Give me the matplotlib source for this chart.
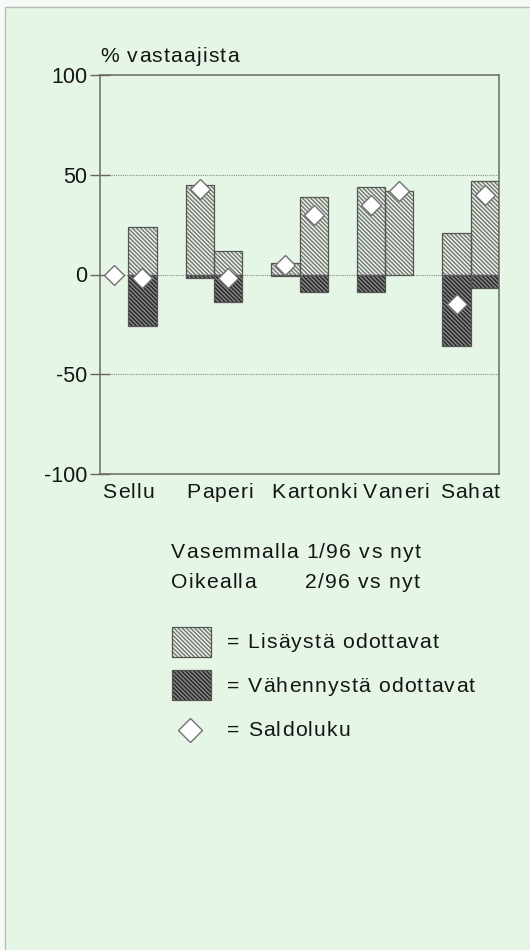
import matplotlib.pyplot as plt
from matplotlib.patches import Rectangle
from matplotlib import font_manager
from matplotlib.ft2font import FT2Font
import numpy as np

plt.rcParams['font.family'] = ['Liberation Sans', 'DejaVu Sans']
plt.rcParams['hatch.linewidth'] = 1.0

# Toimialat ja kyselyn tulokset (% vastaajista)
toimialat = ['Sellu', 'Paperi', 'Kartonki', 'Vaneri', 'Sahat']

lisays_vas = [0, 45, 6, 44, 21]
vahennys_vas = [0, -2, -1, -9, -36]
saldo_vas = [0, 43, 5, 35, -15]

lisays_oik = [24, 12, 39, 42, 47]
vahennys_oik = [-26, -14, -9, 0, -7]
saldo_oik = [-2, -2, 30, 42, 40]

y_ticks = [-100, -50, 0, 50, 100]

BG = '#e6f6e6'
LIGHT_FACE = '#e6f4e4'
LIGHT_HATCH = '#747474'
DARK_FACE = '#2a2a2a'
DARK_HATCH = '#8a8a8a'
EDGE = '#555555'
TEXT = '#151515'
HATCH = '\\' * 8
W = 0.33
FS = 15.2
TRACK = 1.2   # lisäväli merkkien välissä, px

DPI = 100
_font = FT2Font(font_manager.findfont(font_manager.FontProperties(family='Liberation Sans')))
_font.set_size(FS, DPI)


def advances(s):
    return [_font.load_char(ord(c)).linearHoriAdvance / 65536 for c in s]


def tracked(ax, x, y, s, ha='left', track=TRACK):
    # harvennettu teksti: jokainen merkki omalle paikalleen
    adv = advances(s)
    total = sum(adv) + track * (len(s) - 1)
    if ha == 'center':
        x -= total / 2
    elif ha == 'right':
        x -= total
    for c, a in zip(s, adv):
        ax.text(x, y, c, fontsize=FS, color=TEXT, ha='left', va='center')
        x += a + track


def hatched_bars(ax, x, heights, face, hatchcol):
    for xi, h in zip(x, heights):
        if h == 0:
            continue
        ax.bar(xi, h, width=W, color=face, edgecolor=hatchcol, hatch=HATCH,
               linewidth=0, align='center', zorder=2)
        ax.bar(xi, h, width=W, fill=False, edgecolor=EDGE, linewidth=0.9,
               align='center', zorder=3)


fig = plt.figure(figsize=(5.3, 9.5), dpi=DPI, facecolor='#f7f9f7')

# tausta ja reunaviiva (vain vasen ja ylä näkyvät)
bg = fig.add_axes([0, 0, 1, 1], zorder=0)
bg.set_xlim(0, 530)
bg.set_ylim(950, 0)
bg.axis('off')
bg.add_patch(Rectangle((5, 7), 700, 1100, facecolor=BG, edgecolor='#b4beb4',
                       linewidth=1.0, clip_on=False))

ax = fig.add_axes([100 / 530, 1 - 474 / 950, 399 / 530, 399 / 950], zorder=2)
ax.set_facecolor(BG)

x = np.arange(len(toimialat))
x_vas = x - W / 2
x_oik = x + W / 2

hatched_bars(ax, x_vas, lisays_vas, LIGHT_FACE, LIGHT_HATCH)
hatched_bars(ax, x_vas, vahennys_vas, DARK_FACE, DARK_HATCH)
hatched_bars(ax, x_oik, lisays_oik, LIGHT_FACE, LIGHT_HATCH)
hatched_bars(ax, x_oik, vahennys_oik, DARK_FACE, DARK_HATCH)

ax.plot(x_vas, saldo_vas, linestyle='none', marker='D', markersize=10,
        markerfacecolor='white', markeredgecolor='#707070', markeredgewidth=1.0, zorder=4)
ax.plot(x_oik, saldo_oik, linestyle='none', marker='D', markersize=10,
        markerfacecolor='white', markeredgecolor='#707070', markeredgewidth=1.0, zorder=4)

for yv in [-50, 0, 50]:
    ax.axhline(yv, color='#8a8a8a', linestyle=(0, (1, 1)), linewidth=0.8, zorder=1)

ax.set_xlim(-W, len(toimialat) - 1 + W)
ax.set_ylim(-100, 100)
ax.set_yticks(y_ticks)
ax.set_yticklabels([str(v) for v in y_ticks])
ax.set_xticks(x)
ax.set_xticklabels([])
ax.tick_params(axis='y', direction='inout', length=14, width=1, color='#666666',
               labelsize=15.5, pad=2, labelcolor=TEXT)
ax.tick_params(axis='x', length=0)
for s in ax.spines.values():
    s.set_color('#6a6a6a')
    s.set_linewidth(1.1)

# Kuvan päälle pikselikoordinaatein (y alaspäin) oleva kerros teksteille ja selitteille
lg = fig.add_axes([0, 0, 1, 1], zorder=5)
lg.set_xlim(0, 530)
lg.set_ylim(950, 0)
lg.axis('off')
lg.patch.set_alpha(0)

tracked(lg, 100, 57, '% vastaajista')

# toimialojen nimet akselin alle, kirjoitettuna yhdeksi väljäksi riviksi
label_shift = [0, 6, 15, 11, -1]
to_px = ax.transData
for xi, name, dx in zip(x, toimialat, label_shift):
    px = to_px.transform((xi, 0))[0] + dx
    tracked(lg, px, 493, name, ha='center')

tracked(lg, 171, 553, 'Vasemmalla 1/96 vs nyt')
tracked(lg, 171, 583, 'Oikealla')
tracked(lg, 305, 583, '2/96 vs nyt')

lg.add_patch(Rectangle((172, 627), 39, 30, facecolor=LIGHT_FACE,
                       edgecolor=LIGHT_HATCH, hatch=HATCH, linewidth=0))
lg.add_patch(Rectangle((172, 627), 39, 30, fill=False, edgecolor=EDGE, linewidth=0.9))
lg.add_patch(Rectangle((172, 670), 39, 30, facecolor=DARK_FACE,
                       edgecolor=DARK_HATCH, hatch=HATCH, linewidth=0))
lg.add_patch(Rectangle((172, 670), 39, 30, fill=False, edgecolor=EDGE, linewidth=0.9))
lg.plot([190], [730], linestyle='none', marker='D', markersize=12.5,
        markerfacecolor='white', markeredgecolor='#707070', markeredgewidth=1.0)

tracked(lg, 227, 642, '= Lisäystä odottavat')
tracked(lg, 227, 686, '= Vähennystä odottavat')
tracked(lg, 227, 730, '= Saldoluku')

fig.savefig('out.png', dpi=DPI, facecolor=fig.get_facecolor())
